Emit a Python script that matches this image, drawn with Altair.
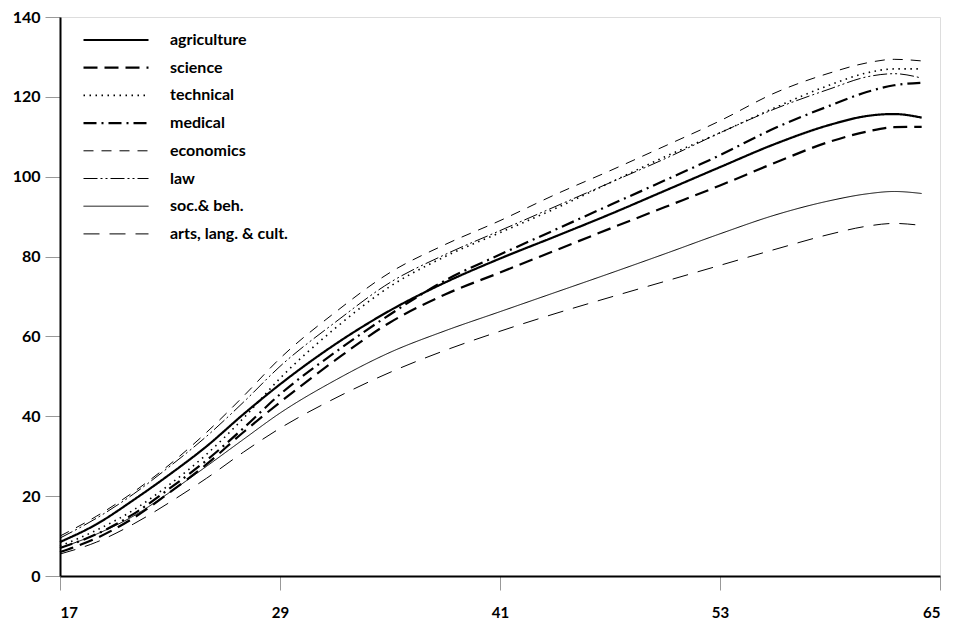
import altair as alt
import pandas as pd

ages = [17, 19, 21, 23, 25, 27, 29, 32, 35, 38, 41, 44, 47, 50, 53, 56, 59, 61, 62.5, 64]

series_names = ["agriculture", "science", "technical", "medical", "economics",
                "law", "soc.& beh.", "arts, lang. & cult."]

agriculture = [8.5, 13, 19, 25.5, 32.5, 40.5, 48, 58, 66.5, 73.5, 79.5, 85, 90.6, 96.5, 102.4, 108.2, 113, 115.2, 115.7, 114.8]
science = [6, 9.5, 14.5, 21, 28, 36, 43.5, 54, 63.5, 70.5, 76, 81.5, 87, 92.4, 97.8, 103.5, 108.8, 111.3, 112.4, 112.5]
technical = [7.5, 11.5, 16.5, 23, 30.5, 39.5, 49.5, 62, 72.5, 80, 86, 92, 98.5, 105, 111, 117.3, 123, 126, 127, 127]
medical = [7, 10.5, 15.5, 22, 29, 37, 45.5, 56, 65.5, 74, 80.5, 86.7, 92.9, 99.1, 105.4, 112.2, 117.8, 121.2, 122.9, 123.5]
economics = [10, 15, 21, 28, 36, 45, 54.5, 66, 76, 83, 89, 95.5, 101.5, 107.7, 114, 121, 126, 128.5, 129.4, 129]
law = [9.5, 14.5, 20.5, 27.5, 35, 43.5, 52.5, 63.5, 73.5, 80.5, 86.5, 92.5, 98.5, 104.5, 111, 117, 122, 125, 125.8, 124.7]
soc = [7, 10.5, 15, 21, 27.5, 34.2, 40.8, 49, 56, 61.4, 66.2, 71, 75.8, 80.7, 85.7, 90.4, 94, 95.7, 96.3, 95.8]
arts = [5.5, 8.5, 13, 18.5, 24.5, 31, 37, 44.5, 51, 56.5, 61.3, 65.7, 69.8, 73.8, 77.8, 81.8, 85.6, 87.6, 88.3, 87.8]

x_ticks = [17, 29, 41, 53, 65]
y_ticks = [0, 20, 40, 60, 80, 100, 120, 140]

all_values = [agriculture, science, technical, medical, economics, law, soc, arts]
rows = []
for name, vals in zip(series_names, all_values):
    for a, v in zip(ages, vals):
        rows.append({"age": a, "value": v, "series": name})
df = pd.DataFrame(rows)

dashes = [[1, 0], [14, 7], [1.5, 4.5], [13, 5, 2, 5], [10, 8], [14, 3, 2, 3, 2, 3], [1, 0], [16, 10]]
widths = [2.2, 2.2, 1.6, 2.2, 1, 1, 1, 1]

FONT = "Lato"

legend_kw = dict(title=None, orient="none", legendX=22, legendY=15,
                 symbolType="stroke", symbolSize=4225,
                 symbolStrokeColor="black", clipHeight=16,
                 labelFont=FONT, labelFontSize=16,
                 labelFontWeight="bold", labelColor="black",
                 labelOffset=20, rowPadding=11.7, padding=0)

chart = alt.Chart(df).mark_line(interpolate="monotone", color="black").encode(
    x=alt.X("age:Q", scale=alt.Scale(domain=[17, 65], nice=False, zero=False),
            axis=alt.Axis(values=x_ticks, title=None, grid=False, tickSize=14,
                          labelPadding=15, labelFontSize=15, labelFont=FONT,
                          labelFontWeight="bold", labelColor="black",
                          domainColor="black", domainWidth=2,
                          tickColor="#999999", tickWidth=1)),
    y=alt.Y("value:Q", scale=alt.Scale(domain=[0, 140], nice=False),
            axis=alt.Axis(values=y_ticks, title=None, grid=False, tickSize=15,
                          labelPadding=5, labelFontSize=16, labelFont=FONT,
                          labelFontWeight="bold", labelColor="black",
                          domainColor="black", domainWidth=2,
                          tickColor="#999999", tickWidth=1)),
    strokeDash=alt.StrokeDash("series:N", sort=series_names,
                              scale=alt.Scale(type="ordinal", domain=series_names, range=dashes),
                              legend=alt.Legend(**legend_kw)),
    strokeWidth=alt.StrokeWidth("series:N", sort=series_names,
                                scale=alt.Scale(type="ordinal", domain=series_names, range=widths),
                                legend=alt.Legend(**legend_kw)),
    detail="series:N",
).properties(
    width=880, height=559,
    autosize=alt.AutoSizeParams(type="none"),
    padding={"left": 60, "top": 17, "right": 15, "bottom": 47},
).configure_view(stroke=None).configure(background="white")

chart.save("out.html", embed_options={"renderer": "svg", "actions": False})
